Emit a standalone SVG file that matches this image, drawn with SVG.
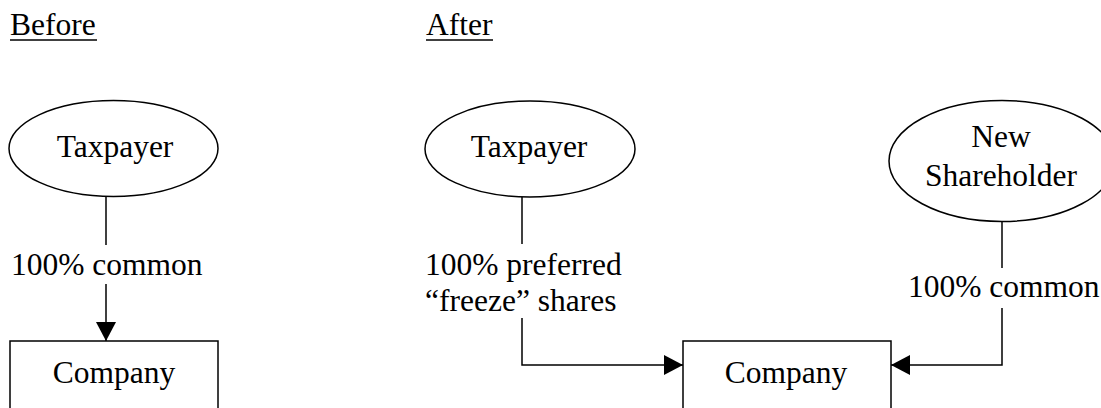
<svg xmlns="http://www.w3.org/2000/svg" width="1101" height="408" viewBox="0 0 1101 408">
<style>
text{font-family:"Liberation Serif","Times New Roman",serif;font-size:31.5px;fill:#000}
.c{text-anchor:middle}
.shape{fill:#fff;stroke:#000;stroke-width:1.5}
.line{fill:none;stroke:#000;stroke-width:1.5}
</style>
<defs>
<marker id="arrow" markerWidth="20" markerHeight="20" refX="19" refY="10" orient="auto" markerUnits="userSpaceOnUse">
<path d="M0,0 L19,10 L0,20 Z" fill="#000"/>
</marker>
</defs>
<rect width="1101" height="408" fill="#fff"/>
<g id="title-before">
<text x="10" y="35">Before</text>
<line x1="10" y1="40" x2="97" y2="40" stroke="#000" stroke-width="1.5"/>
</g>
<g id="title-after">
<text x="426" y="35">After</text>
<line x1="426" y1="40" x2="493" y2="40" stroke="#000" stroke-width="1.5"/>
</g>
<g id="connectors">
<line class="line" x1="106" y1="197" x2="106" y2="245"/>
<line class="line" x1="106" y1="284" x2="106" y2="341" marker-end="url(#arrow)"/>
<line class="line" x1="522" y1="197" x2="522" y2="244"/>
<polyline class="line" points="522,318 522,365 683,365" marker-end="url(#arrow)"/>
<line class="line" x1="1002" y1="222" x2="1002" y2="268"/>
<polyline class="line" points="1002,308 1002,365 891,365" marker-end="url(#arrow)"/>
<text x="11" y="275">100% common</text>
<text x="425" y="275">100% preferred</text>
<text x="425" y="311">“freeze” shares</text>
<text x="908" y="297">100% common</text>
</g>
<g id="before-taxpayer">
<ellipse class="shape" cx="113.5" cy="148.5" rx="104.5" ry="48"/>
<text class="c" x="115" y="157">Taxpayer</text>
</g>
<g id="before-company">
<rect class="shape" x="10" y="341" width="208" height="80"/>
<text class="c" x="114" y="383">Company</text>
</g>
<g id="after-taxpayer">
<ellipse class="shape" cx="530" cy="149" rx="105" ry="48"/>
<text class="c" x="529" y="157">Taxpayer</text>
</g>
<g id="new-shareholder">
<ellipse class="shape" cx="1002" cy="161" rx="113" ry="60.5"/>
<text class="c" x="1001" y="147">New</text>
<text class="c" x="1001" y="186">Shareholder</text>
</g>
<g id="after-company">
<rect class="shape" x="683" y="341" width="208" height="80"/>
<text class="c" x="786" y="383">Company</text>
</g>
</svg>
